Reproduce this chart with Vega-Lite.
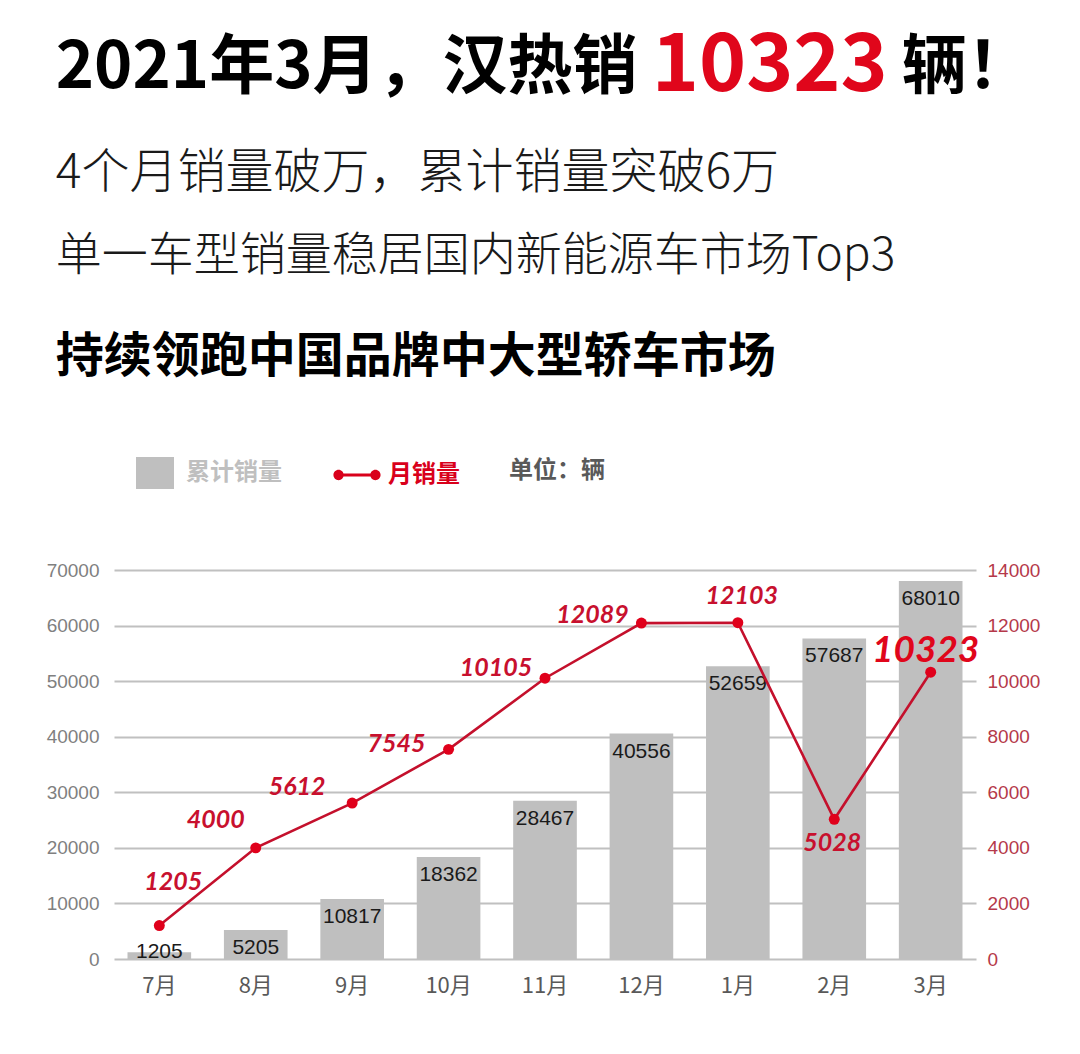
{
  "$schema": "https://vega.github.io/schema/vega-lite/v6.json",
  "background": "white",
  "padding": {"left": 46, "top": 27, "right": 10, "bottom": 10},
  "config": {"view": {"stroke": null}},
  "datasets": {
    "sales": [
      {"month": "7月", "cum": 1205, "monthly": 1205},
      {"month": "8月", "cum": 5205, "monthly": 4000},
      {"month": "9月", "cum": 10817, "monthly": 5612},
      {"month": "10月", "cum": 18362, "monthly": 7545},
      {"month": "11月", "cum": 28467, "monthly": 10105},
      {"month": "12月", "cum": 40556, "monthly": 12089},
      {"month": "1月", "cum": 52659, "monthly": 12103},
      {"month": "2月", "cum": 57687, "monthly": 5028},
      {"month": "3月", "cum": 68010, "monthly": 10323}
    ]
  },
  "spacing": 0,
  "resolve": {"scale": {"color": "independent"}, "legend": {"color": "independent"}},
  "vconcat": [
    {
      "spacing": 13,
      "hconcat": [
        {
          "data": {"values": [{}]},
          "mark": {"type": "point", "opacity": 0},
          "width": 1,
          "height": 48,
          "title": {"text": "2021年3月，汉热销", "anchor": "start", "dx": -56, "offset": 0, "baseline": "top", "font": "Noto Sans CJK SC", "fontSize": 65, "fontWeight": "bold", "color": "#000000"}
        },
        {
          "data": {"values": [{}]},
          "mark": {"type": "point", "opacity": 0},
          "width": 1,
          "height": 48,
          "title": {"text": "10323", "anchor": "start", "offset": -6, "baseline": "top", "font": "Noto Sans CJK SC", "fontSize": 80, "fontWeight": "bold", "color": "#e0061b"}
        },
        {
          "data": {"values": [{}]},
          "mark": {"type": "point", "opacity": 0},
          "width": 1,
          "height": 48,
          "title": {"text": "辆！", "anchor": "start", "offset": 0, "baseline": "top", "font": "Noto Sans CJK SC", "fontSize": 65, "fontWeight": "bold", "color": "#000000"}
        }
      ]
    },
    {
      "data": {"values": [{}]},
      "mark": {"type": "point", "opacity": 0},
      "width": 1,
      "height": 55,
      "title": {
        "text": "4个月销量破万，累计销量突破6万",
        "subtitle": "单一车型销量稳居国内新能源车市场Top3",
        "anchor": "start", "dx": -56, "offset": 0, "baseline": "top",
        "font": "Noto Sans CJK SC", "fontSize": 48, "fontWeight": 300, "color": "#1a1a1a",
        "subtitleFont": "Noto Sans CJK SC", "subtitleFontSize": 46, "subtitleFontWeight": 300, "subtitleColor": "#1a1a1a", "subtitlePadding": 36
      }
    },
    {
      "data": {"values": [{}]},
      "mark": {"type": "point", "opacity": 0},
      "width": 1,
      "height": 72,
      "title": {"text": "持续领跑中国品牌中大型轿车市场", "anchor": "start", "dx": -56, "offset": 0, "baseline": "top", "font": "Noto Sans CJK SC", "fontSize": 48, "fontWeight": "bold", "color": "#000000"}
    },
    {
      "width": 862,
      "height": 389,
      "data": {"name": "sales"},
      "encoding": {
        "x": {
          "field": "month",
          "type": "nominal",
          "sort": null,
          "scale": {"paddingInner": 0.34, "paddingOuter": 0.14},
          "axis": {"title": null, "labelAngle": 0, "domain": false, "ticks": false, "labelFont": "Noto Sans CJK SC", "labelFontSize": 22, "labelColor": "#595959", "labelPadding": 16}
        }
      },
      "layer": [
        {
          "encoding": {
            "y": {
              "field": "cum",
              "type": "quantitative",
              "scale": {"domain": [0, 70000]},
              "axis": {"title": null, "format": "d", "values": [0, 10000, 20000, 30000, 40000, 50000, 60000, 70000], "grid": true, "gridColor": "#c0c0c0", "gridWidth": 1.8, "domain": false, "ticks": false, "labelFont": "Liberation Sans", "labelFontSize": 19, "labelColor": "#808080", "labelPadding": 15}
            }
          },
          "layer": [
            {
              "mark": {"type": "bar"},
              "encoding": {
                "color": {
                  "datum": "累计销量",
                  "type": "nominal",
                  "scale": {"domain": ["累计销量", "月销量"], "range": ["#bfbfbf", "#d9001b"]},
                  "legend": {
                    "title": "单位：辆",
                    "titleOrient": "right",
                    "orient": "none",
                    "legendX": 22,
                    "legendY": -116,
                    "direction": "horizontal",
                    "padding": 0,
                    "symbolType": {"expr": "datum.label === '月销量' ? 'M-1,-0.08H1V0.08H-1Z M-1.24,0A0.27,0.27 0 1,1 -0.70,0A0.27,0.27 0 1,1 -1.24,0Z M0.70,0A0.27,0.27 0 1,1 1.24,0A0.27,0.27 0 1,1 0.70,0Z' : 'M-1,-0.84H1V0.84H-1Z'"},
                    "symbolSize": 1444,
                    "symbolStrokeWidth": 0,
                    "labelColor": {"expr": "datum.label === '月销量' ? '#d9001b' : '#bfbfbf'"},
                    "labelFont": "Noto Sans CJK SC",
                    "labelFontSize": 24,
                    "labelFontWeight": "bold",
                    "labelOffset": 12,
                    "columnPadding": 51,
                    "titleFont": "Noto Sans CJK SC",
                    "titleFontSize": 24,
                    "titleFontWeight": "bold",
                    "titleColor": "#595959",
                    "titlePadding": 49
                  }
                }
              }
            },
            {
              "transform": [{"filter": "datum.cum >= 3000"}],
              "mark": {"type": "text", "baseline": "middle", "dy": 18, "font": "Liberation Sans", "fontSize": 21, "color": "#1a1a1a"},
              "encoding": {"text": {"field": "cum", "type": "quantitative", "format": "d"}}
            },
            {
              "transform": [{"filter": "datum.cum < 3000"}],
              "mark": {"type": "text", "baseline": "middle", "dy": 0, "font": "Liberation Sans", "fontSize": 21, "color": "#1a1a1a"},
              "encoding": {"text": {"field": "cum", "type": "quantitative", "format": "d"}}
            }
          ]
        },
        {
          "encoding": {
            "y": {
              "field": "monthly",
              "type": "quantitative",
              "scale": {"domain": [0, 14000]},
              "axis": {"title": null, "format": "d", "orient": "right", "values": [0, 2000, 4000, 6000, 8000, 10000, 12000, 14000], "grid": false, "domain": false, "ticks": false, "labelFont": "Liberation Sans", "labelFontSize": 19, "labelColor": "#b5394a", "labelPadding": 11}
            },
            "text": {"field": "monthly", "type": "quantitative", "format": "d"}
          },
          "layer": [
            {
              "mark": {"type": "line", "color": "#c4102c", "strokeWidth": 2.6}
            },
            {
              "mark": {"type": "point", "filled": true, "size": 120, "opacity": 1, "color": "#e0001b"}
            },
            {
              "transform": [{"filter": "datum.month === '7月'"}],
              "mark": {"type": "text", "align": "center", "baseline": "middle", "dx": 14, "dy": -44, "font": "Lato", "fontSize": 25, "fontWeight": "bold", "fontStyle": "italic", "color": "#c8102e"}
            },
            {
              "transform": [{"filter": "datum.month === '8月'"}],
              "mark": {"type": "text", "align": "center", "baseline": "middle", "dx": -40, "dy": -28, "font": "Lato", "fontSize": 25, "fontWeight": "bold", "fontStyle": "italic", "color": "#c8102e"}
            },
            {
              "transform": [{"filter": "datum.month === '9月'"}],
              "mark": {"type": "text", "align": "center", "baseline": "middle", "dx": -55, "dy": -16, "font": "Lato", "fontSize": 25, "fontWeight": "bold", "fontStyle": "italic", "color": "#c8102e"}
            },
            {
              "transform": [{"filter": "datum.month === '10月'"}],
              "mark": {"type": "text", "align": "center", "baseline": "middle", "dx": -52, "dy": -5, "font": "Lato", "fontSize": 25, "fontWeight": "bold", "fontStyle": "italic", "color": "#c8102e"}
            },
            {
              "transform": [{"filter": "datum.month === '11月'"}],
              "mark": {"type": "text", "align": "center", "baseline": "middle", "dx": -49, "dy": -10, "font": "Lato", "fontSize": 25, "fontWeight": "bold", "fontStyle": "italic", "color": "#c8102e"}
            },
            {
              "transform": [{"filter": "datum.month === '12月'"}],
              "mark": {"type": "text", "align": "center", "baseline": "middle", "dx": -49, "dy": -8, "font": "Lato", "fontSize": 25, "fontWeight": "bold", "fontStyle": "italic", "color": "#c8102e"}
            },
            {
              "transform": [{"filter": "datum.month === '1月'"}],
              "mark": {"type": "text", "align": "center", "baseline": "middle", "dx": 4, "dy": -27, "font": "Lato", "fontSize": 25, "fontWeight": "bold", "fontStyle": "italic", "color": "#c8102e"}
            },
            {
              "transform": [{"filter": "datum.month === '2月'"}],
              "mark": {"type": "text", "align": "center", "baseline": "middle", "dx": -2, "dy": 24, "font": "Lato", "fontSize": 25, "fontWeight": "bold", "fontStyle": "italic", "color": "#c8102e"}
            },
            {
              "transform": [{"filter": "datum.month === '3月'"}],
              "mark": {"type": "text", "align": "center", "baseline": "middle", "dx": -5, "dy": -21, "font": "Lato", "fontSize": 37, "fontWeight": "bold", "fontStyle": "italic", "color": "#e0061b"}
            }
          ]
        }
      ],
      "resolve": {"scale": {"y": "independent"}}
    }
  ]
}
